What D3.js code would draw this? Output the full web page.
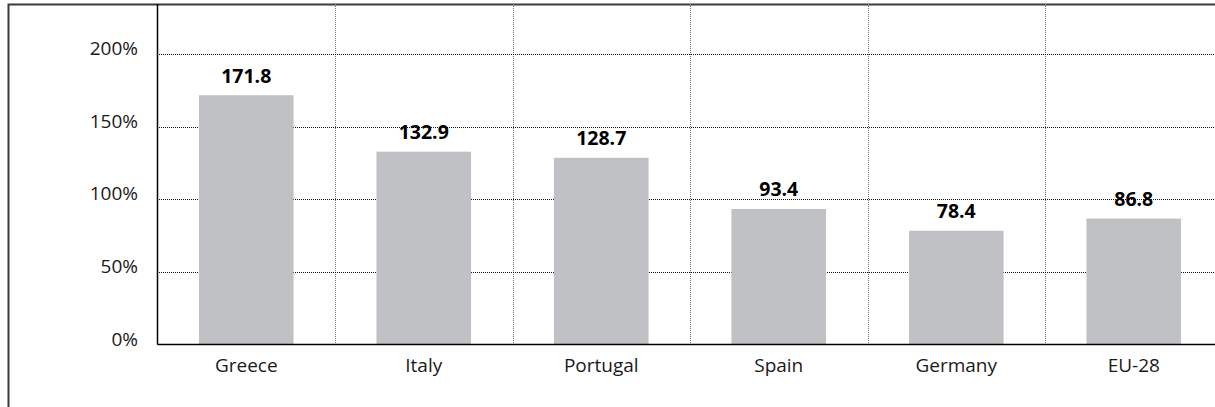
<!DOCTYPE html>
<html>
<head>
<meta charset="utf-8">
<script src="https://cdn.jsdelivr.net/npm/d3@7"></script>
<style>
  body { margin: 0; background: #fff; }
  svg text { font-family: "Open Sans", "Noto Sans", sans-serif; fill: #1a1a1a; }
  .value { font-weight: bold; fill: #000; }
</style>
</head>
<body>
<div class="chart"></div>
<script>
var categories = ["Greece", "Italy", "Portugal", "Spain", "Germany", "EU-28"];
var values = [171.8, 132.9, 128.7, 93.4, 78.4, 86.8];
var yTicks = [0, 50, 100, 150, 200];

var width = 1215, height = 407;
var plot = { left: 157.5, right: 1222.5, top: 4, bottom: 344.5 };

var svg = d3.select(".chart").append("svg")
  .attr("width", width)
  .attr("height", height);

// outer frame (runs past the right and bottom edges)
svg.append("rect")
  .attr("x", 8.5).attr("y", 4.5)
  .attr("width", 1220).attr("height", 420)
  .attr("fill", "none")
  .attr("stroke", "#3a3a3a")
  .attr("stroke-width", 2);

var x = d3.scaleBand()
  .domain(categories)
  .range([plot.left, plot.right])
  .paddingInner(0.467)
  .paddingOuter(0.2335);

var y = d3.scaleLinear()
  .domain([0, 200])
  .range([plot.bottom, 54.3]);

var gap = x.step() * x.paddingInner();

// vertical dotted separators between categories
svg.append("g")
  .selectAll("line")
  .data(categories.slice(1))
  .enter().append("line")
  .attr("x1", d => Math.round(x(d) - gap / 2) + 0.5)
  .attr("x2", d => Math.round(x(d) - gap / 2) + 0.5)
  .attr("y1", plot.top)
  .attr("y2", plot.bottom)
  .attr("stroke", "#6f6f6f")
  .attr("stroke-dasharray", "1,1");

// horizontal dotted gridlines
svg.append("g")
  .selectAll("line")
  .data(yTicks.filter(d => d > 0))
  .enter().append("line")
  .attr("x1", 159)
  .attr("x2", width)
  .attr("y1", d => Math.round(y(d)) + 0.5)
  .attr("y2", d => Math.round(y(d)) + 0.5)
  .attr("stroke", "#111")
  .attr("stroke-dasharray", "1,1");

// bars
svg.append("g")
  .selectAll("rect")
  .data(values)
  .enter().append("rect")
  .attr("x", (d, i) => x(categories[i]))
  .attr("width", x.bandwidth())
  .attr("y", d => y(d))
  .attr("height", d => plot.bottom - y(d))
  .attr("fill", "#c0c1c5");

// value labels
svg.append("g")
  .selectAll("text")
  .data(values)
  .enter().append("text")
  .attr("class", "value")
  .attr("x", (d, i) => x(categories[i]) + x.bandwidth() / 2)
  .attr("y", d => y(d) - 12.5)
  .attr("text-anchor", "middle")
  .attr("font-size", 19.5)
  .text(d => d.toFixed(1));

// axes lines
svg.append("line")
  .attr("x1", plot.left).attr("x2", plot.left)
  .attr("y1", plot.top).attr("y2", plot.bottom)
  .attr("stroke", "#000").attr("stroke-width", 1.5);
svg.append("line")
  .attr("x1", plot.left).attr("x2", width)
  .attr("y1", plot.bottom).attr("y2", plot.bottom)
  .attr("stroke", "#000").attr("stroke-width", 1.5);

// y tick labels
svg.append("g")
  .selectAll("text")
  .data(yTicks)
  .enter().append("text")
  .attr("x", 138)
  .attr("y", d => y(d) + 1)
  .attr("text-anchor", "end")
  .attr("font-size", 19)
  .text(d => d + "%");

// category labels
svg.append("g")
  .selectAll("text")
  .data(categories)
  .enter().append("text")
  .attr("x", d => x(d) + x.bandwidth() / 2)
  .attr("y", 372)
  .attr("text-anchor", "middle")
  .attr("font-size", 19)
  .text(d => d);
</script>
</body>
</html>
